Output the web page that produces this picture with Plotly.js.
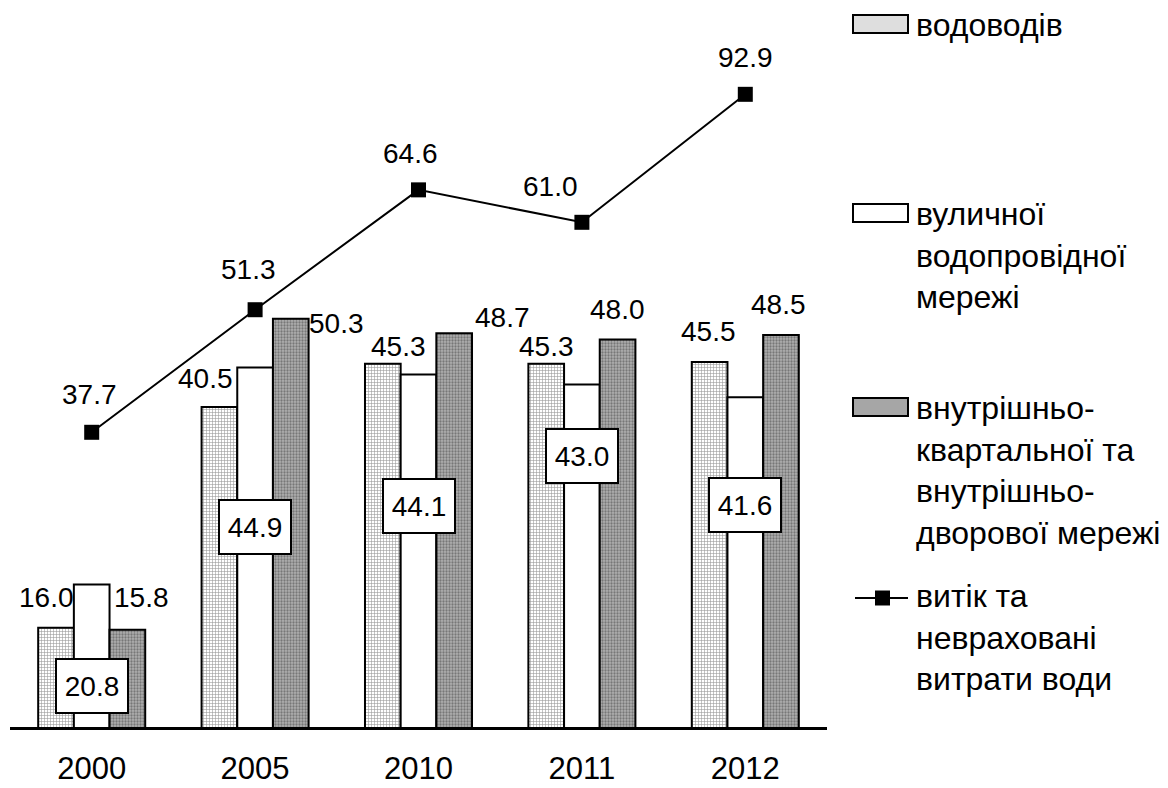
<!DOCTYPE html>
<html>
<head>
<meta charset="utf-8">
<script src="https://cdn.plot.ly/plotly-3.0.1.min.js"></script>
<style>html,body{margin:0;padding:0;background:#fff;}#chart{width:1168px;height:788px;}</style>
</head>
<body>
<div id="chart"></div>
<script>
// ---- data ----
const years = ['2000', '2005', '2010', '2011', '2012'];
const vodovodiv = [16.0, 40.5, 45.3, 45.3, 45.5];
const vulychnoi = [20.8, 44.9, 44.1, 43.0, 41.6];
const vnutrishnio = [15.8, 50.3, 48.7, 48.0, 48.5];
// line as drawn in the picture (last point is drawn lower than its printed label)
const vytik = [37.7, 51.3, 64.6, 61.0, 75.2];
const vytikLabels = ['37.7', '51.3', '64.6', '61.0', '92.9'];
const seriesNames = [
  'водоводів',
  'вуличної<br>водопровідної<br>мережі',
  'внутрішньо-<br>квартальної та<br>внутрішньо-<br>дворової мережі',
  'витік та<br>невраховані<br>витрати води'
];

// ---- geometry / styles ----
const FONT = 'Liberation Sans, Arial, sans-serif';
const PL = 10, PR = 827, PT = 6, PB = 727;
const YMIN = 5, YMAX = 85;
const BARGAP = 0.345;
const catPx = (PR - PL) / years.length;
const barPx = catPx * (1 - BARGAP) / 3;
const px2x = p => (p - PL) / (PR - PL);
const px2y = p => (PB - p) / (PB - PT);

// label nudges (px): [dx, dy up]
const s1Nudge = [[-10, 30], [-14, 29], [16, 17], [0, 17], [-1, 30]];
const s3Nudge = [[14, 32], [46, -5], [48, 16], [0, 30], [-2, 30]];
const s2BoxDown = [101, 160, 131, 71, 108];
const lineNudge = [[-2, 38], [-7, 40], [-8, 36], [-31, 36], [0, 37]];

const barLine = {color: '#000', width: 2};
const traces = [
  {type: 'bar', x: years, y: vodovodiv, name: 'водоводів',
   marker: {color: '#ffffff', line: barLine,
     pattern: {shape: '+', fgcolor: '#9a9a9a', bgcolor: '#ffffff', size: 3, solidity: 0.35}}},
  {type: 'bar', x: years, y: vulychnoi, name: 'вуличної',
   marker: {color: '#ffffff', line: barLine}},
  {type: 'bar', x: years, y: vnutrishnio, name: 'внутрішньо',
   marker: {color: '#a8a8a8', line: barLine,
     pattern: {shape: '.', fgcolor: '#777777', bgcolor: '#b0b0b0', size: 3, solidity: 0.45}}},
  {type: 'scatter', mode: 'lines+markers', x: years, y: vytik, name: 'витік',
   line: {color: '#000', width: 2}, marker: {symbol: 'square', size: 15, color: '#000'},
   cliponaxis: false}
];

const labelFont = {family: FONT, size: 28, color: '#000'};
const annotations = [];
years.forEach((yr, i) => {
  // category axis: annotations positioned by category index
  annotations.push({x: i, y: vodovodiv[i], xref: 'x', yref: 'y', text: vodovodiv[i].toFixed(1),
    showarrow: false, font: labelFont, xanchor: 'center', yanchor: 'middle',
    xshift: -barPx + s1Nudge[i][0], yshift: s1Nudge[i][1]});
  annotations.push({x: i, y: vnutrishnio[i], xref: 'x', yref: 'y', text: vnutrishnio[i].toFixed(1),
    showarrow: false, font: labelFont, xanchor: 'center', yanchor: 'middle',
    xshift: barPx + s3Nudge[i][0], yshift: s3Nudge[i][1]});
  annotations.push({x: i, y: vulychnoi[i], xref: 'x', yref: 'y', text: vulychnoi[i].toFixed(1),
    showarrow: false, font: labelFont, xanchor: 'center', yanchor: 'middle',
    bgcolor: '#fff', bordercolor: '#000', borderwidth: 2, borderpad: 7, width: 56, height: 38,
    yshift: -s2BoxDown[i]});
  annotations.push({x: i, y: vytik[i], xref: 'x', yref: 'y', text: vytikLabels[i],
    showarrow: false, font: labelFont, xanchor: 'center', yanchor: 'middle',
    xshift: lineNudge[i][0], yshift: lineNudge[i][1]});
});

// custom legend
const legFont = {family: FONT, size: 32, color: '#000'};
const legCenters = [27, 216, 410, 598];
const legFills = ['#dedede', '#ffffff', '#a6a6a6'];
const shapes = [];
seriesNames.forEach((nm, i) => {
  annotations.push({xref: 'paper', yref: 'paper', x: px2x(915), y: px2y(legCenters[i] - 21),
    xanchor: 'left', yanchor: 'top', align: 'left', showarrow: false, text: nm, font: legFont, borderpad: 0});
  if (i < 3) {
    shapes.push({type: 'rect', xref: 'paper', yref: 'paper',
      x0: px2x(853), x1: px2x(908), y0: px2y(legCenters[i] - 12), y1: px2y(legCenters[i] + 6),
      fillcolor: legFills[i], line: {color: '#000', width: 2}});
  }
});
shapes.push({type: 'line', xref: 'paper', yref: 'paper', x0: px2x(855), x1: px2x(908),
  y0: px2y(legCenters[3]), y1: px2y(legCenters[3]), line: {color: '#000', width: 2}});
shapes.push({type: 'rect', xref: 'paper', yref: 'paper', x0: px2x(875), x1: px2x(890),
  y0: px2y(legCenters[3] - 7.5), y1: px2y(legCenters[3] + 7.5), fillcolor: '#000', line: {width: 0}});

const layout = {
  width: 1168, height: 788,
  margin: {l: PL, r: 1168 - PR, t: PT, b: 788 - PB, pad: 0},
  paper_bgcolor: '#fff', plot_bgcolor: '#fff',
  showlegend: false,
  barmode: 'group', bargap: BARGAP, bargroupgap: 0,
  font: {family: FONT, color: '#000'},
  xaxis: {type: 'category', range: [-0.5, years.length - 0.5], showline: true, linecolor: '#000',
    linewidth: 2.5, ticks: '', showgrid: false, zeroline: false, ticklabelstandoff: 12,
    tickfont: {family: FONT, size: 31, color: '#000'}},
  yaxis: {range: [YMIN, YMAX], showline: false, showgrid: false, zeroline: false,
    showticklabels: false, ticks: ''},
  annotations: annotations,
  shapes: shapes
};

Plotly.newPlot('chart', traces, layout, {displayModeBar: false, staticPlot: true});
</script>
</body>
</html>
